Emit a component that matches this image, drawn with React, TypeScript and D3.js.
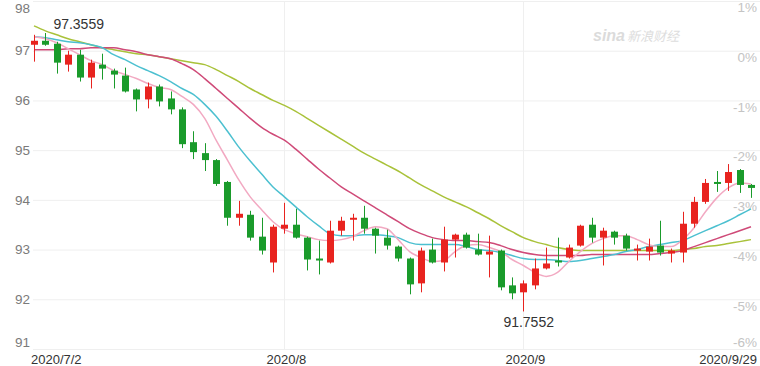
import React from "react";
import * as d3 from "d3";

const dates = [
  "7/2","7/3","7/6","7/7","7/8","7/9","7/10","7/13","7/14","7/15","7/16","7/17","7/20","7/21","7/22","7/23","7/24","7/27","7/28","7/29","7/30","7/31",
  "8/3","8/4","8/5","8/6","8/7","8/10","8/11","8/12","8/13","8/14","8/17","8/18","8/19","8/20","8/21","8/24","8/25","8/26","8/27","8/28","8/31",
  "9/1","9/2","9/3","9/4","9/7","9/8","9/9","9/10","9/11","9/14","9/15","9/16","9/17","9/18","9/21","9/22","9/23","9/24","9/25","9/28","9/29",
];

const open = [97.12,97.2,97.14,96.72,96.92,96.46,96.72,96.6,96.5,96.22,96.02,96.28,96.04,95.82,95.16,94.94,94.8,94.36,93.64,93.7,93.26,92.74,
  93.42,93.5,93.24,92.82,92.74,93.38,93.6,93.64,93.42,93.24,93.06,92.82,92.32,93.0,92.74,93.2,93.3,93.0,92.9,92.98,92.28,
  92.14,92.28,92.62,92.78,92.84,93.08,93.5,93.24,93.36,93.28,92.98,92.96,93.08,92.92,92.94,93.52,93.96,94.36,94.34,94.6,94.3];
const high = [97.32,97.3559,97.18,97.0,97.02,96.82,96.94,96.64,96.66,96.24,96.36,96.32,96.18,95.86,95.38,95.14,94.82,94.38,93.98,93.78,93.64,93.5,
  93.94,93.82,93.26,93.18,93.58,93.66,93.72,93.88,93.44,93.4,93.08,92.84,93.04,93.22,93.46,93.32,93.34,93.32,93.28,93.0,92.44,
  92.38,92.82,93.04,93.24,93.1,93.5,93.64,93.44,93.38,93.32,93.1,93.22,93.58,93.02,93.76,94.06,94.42,94.58,94.72,94.62,94.32];
const low = [96.78,97.1,96.54,96.58,96.38,96.24,96.42,96.24,96.16,95.78,95.84,95.88,95.72,95.04,94.82,94.58,94.28,93.48,93.48,93.18,92.9,92.54,
  93.32,93.22,92.58,92.5,92.72,93.28,93.18,93.32,92.92,93.0,92.76,92.1,92.14,92.72,92.56,92.84,93.02,92.88,92.44,92.18,92.0,
  91.7552,92.2,92.6,92.66,92.82,93.06,93.14,92.68,93.1,92.98,92.78,92.78,92.88,92.74,92.74,93.44,93.92,94.16,94.18,94.14,94.04];
const close = [97.2,97.12,96.76,96.92,96.46,96.76,96.64,96.52,96.18,96.02,96.28,95.98,95.82,95.12,94.96,94.8,94.32,93.64,93.72,93.24,92.98,93.46,
  93.5,93.24,92.8,92.78,93.38,93.58,93.64,93.42,93.28,93.08,92.82,92.3,92.98,92.74,93.2,93.3,93.04,92.9,92.96,92.24,92.12,
  92.32,92.62,92.72,92.74,93.04,93.48,93.24,93.38,93.24,93.02,93.02,93.06,92.94,92.98,93.52,93.96,94.34,94.34,94.56,94.3,94.24];

const ma5 = [97.28,97.24,97.16,97.04,96.92,96.8,96.72,96.6,96.52,96.44,96.34,96.26,96.22,96.08,95.92,95.64,95.2,94.8,94.4,94.06,93.8,93.56,
  93.4,93.32,93.26,93.2,93.18,93.2,93.26,93.38,93.46,93.42,93.2,92.96,92.84,92.76,92.78,92.96,93.08,93.1,93.04,92.96,92.8,
  92.68,92.54,92.46,92.54,92.76,92.96,93.12,93.22,93.28,93.28,93.2,93.1,93.06,93.06,93.2,93.44,93.76,94.04,94.24,94.34,94.32];
const ma10 = [97.28,97.26,97.22,97.18,97.16,97.12,97.06,96.92,96.82,96.7,96.6,96.5,96.38,96.24,96.12,95.92,95.68,95.38,95.06,94.78,94.52,94.26,
  94.06,93.86,93.66,93.48,93.32,93.28,93.28,93.3,93.3,93.28,93.24,93.14,93.1,93.1,93.1,93.1,93.06,93.0,92.98,92.94,92.88,
  92.82,92.8,92.8,92.78,92.76,92.78,92.82,92.86,92.9,92.96,93.0,93.06,93.1,93.14,93.18,93.28,93.38,93.48,93.58,93.7,93.82];
const ma20 = [97.02,97.02,97.02,97.04,97.04,97.06,97.06,97.06,97.02,96.98,96.92,96.88,96.84,96.74,96.62,96.44,96.24,96.04,95.84,95.64,95.46,95.32,
  95.2,95.02,94.82,94.62,94.44,94.26,94.12,93.98,93.84,93.7,93.56,93.42,93.32,93.24,93.2,93.18,93.18,93.16,93.14,93.08,93.0,
  92.94,92.9,92.88,92.88,92.88,92.88,92.9,92.9,92.9,92.9,92.9,92.9,92.92,92.94,92.98,93.06,93.14,93.22,93.3,93.38,93.46];
const ma30 = [97.5,97.4,97.32,97.24,97.18,97.12,97.06,97.02,96.98,96.94,96.92,96.88,96.84,96.8,96.76,96.72,96.62,96.5,96.38,96.24,96.12,96.0,
  95.9,95.78,95.64,95.5,95.36,95.22,95.08,94.94,94.82,94.7,94.58,94.44,94.3,94.18,94.06,93.96,93.86,93.74,93.62,93.48,93.36,
  93.24,93.16,93.1,93.04,93.0,92.98,92.98,92.98,92.98,92.98,92.98,92.98,92.98,92.98,93.0,93.02,93.06,93.08,93.12,93.16,93.2];

const priceTicks = [98, 97, 96, 95, 94, 93, 92, 91];
const pctTicks = ["1%", "0%", "-1%", "-2%", "-3%", "-4%", "-5%", "-6%"];
const tickDates = ["7/2", "8/3", "9/1", "9/29"];
const tickLabels = ["2020/7/2", "2020/8", "2020/9", "2020/9/29"];
const gridDates = ["8/3", "9/1"];
const maxLabel = "97.3559";
const minLabel = "91.7552";

const W = 760;
const H = 366;
const UP = "#e8231f";
const DOWN = "#1a9b2b";
const FONT = "'Liberation Sans', Arial, Helvetica, sans-serif";

export default function App() {
  const x = d3.scalePoint<string>().domain(dates).range([34, 751]);
  const y = d3.scaleLinear().domain([91, 98]).range([349, 1]);
  const idx = d3.range(dates.length);
  const line = (arr: number[]) =>
    d3.line<number>().x((i) => x(dates[i]) as number).y((i) => y(arr[i])).curve(d3.curveMonotoneX)(idx) || "";

  const maxI = high.indexOf(d3.max(high) as number);
  const minI = low.indexOf(d3.min(low) as number);
  const bw = 7;

  return (
    <svg width={W} height={H} style={{ position: "absolute", left: 0, top: 0, background: "#fff" }} fontFamily={FONT}>
      <rect x={0} y={0} width={W} height={H} fill="#fff" />
      {priceTicks.map((t) => (
        <line key={"g" + t} x1={33} x2={W} y1={y(t) + 0.5} y2={y(t) + 0.5} stroke="#efefef" strokeWidth={1} />
      ))}
      {gridDates.map((d) => (
        <line key={"v" + d} x1={Math.round(x(d) as number) + 0.5} x2={Math.round(x(d) as number) + 0.5} y1={1} y2={349} stroke="#efefef" strokeWidth={1} />
      ))}
      {/* watermark */}
      <g opacity={0.5}>
        <text x={593} y={41} fontSize={16} fontStyle="italic" fontWeight="bold" fill="#b9b9b9">sina</text>
        <text x={627} y={41} fontSize={13} fontStyle="italic" fill="#bdbdbd" fontFamily="'Noto Sans CJK SC', sans-serif">新浪财经</text>
      </g>
      {/* left axis */}
      {priceTicks.map((t, i) => {
        const cy = i === 0 ? y(t) + 7 : i === priceTicks.length - 1 ? y(t) - 7 : y(t);
        return (
          <text key={"l" + t} x={30} y={cy} dy="0.35em" textAnchor="end" fontSize={13.5} fill="#7a7a7a">{t}</text>
        );
      })}
      {/* right axis */}
      {pctTicks.map((t, i) => {
        const cy = i === pctTicks.length - 1 ? y(priceTicks[i]) - 7 : y(priceTicks[i]) + 6.5;
        return (
          <text key={"r" + t} x={757} y={cy} dy="0.35em" textAnchor="end" fontSize={13.5} fill="#c4c4c4">{t}</text>
        );
      })}
      {/* x axis labels */}
      {tickDates.map((d, i) => {
        const anchor = i === 0 ? "start" : i === tickDates.length - 1 ? "end" : "middle";
        const xx = i === 0 ? 31 : i === tickDates.length - 1 ? 757 : (x(d) as number) + 2;
        return (
          <text key={"x" + d} x={xx} y={364} textAnchor={anchor} fontSize={13} fill="#333">{tickLabels[i]}</text>
        );
      })}
      {/* moving averages */}
      <path d={line(ma30)} fill="none" stroke="#a9c23a" strokeWidth={1.5} />
      <path d={line(ma20)} fill="none" stroke="#cf4a78" strokeWidth={1.5} />
      <path d={line(ma10)} fill="none" stroke="#4cc0d0" strokeWidth={1.5} />
      <path d={line(ma5)} fill="none" stroke="#f2a9c2" strokeWidth={1.5} />
      {/* candles */}
      {idx.map((i) => {
        const up = close[i] >= open[i];
        const c = up ? UP : DOWN;
        const cx = Math.round(x(dates[i]) as number);
        const top = y(Math.max(open[i], close[i]));
        const bot = y(Math.min(open[i], close[i]));
        return (
          <g key={"c" + i}>
            <line x1={cx + 0.5} x2={cx + 0.5} y1={y(high[i])} y2={y(low[i])} stroke={c} strokeWidth={1} />
            <rect x={cx - 3} y={top} width={bw} height={Math.max(2, bot - top)} fill={c} />
          </g>
        );
      })}
      {/* extremes */}
      <text x={(x(dates[maxI]) as number) + 8} y={29} fontSize={14} fill="#333">{maxLabel}</text>
      <text x={(x(dates[minI]) as number) - 20} y={327} fontSize={14} fill="#333">{minLabel}</text>
    </svg>
  );
}
